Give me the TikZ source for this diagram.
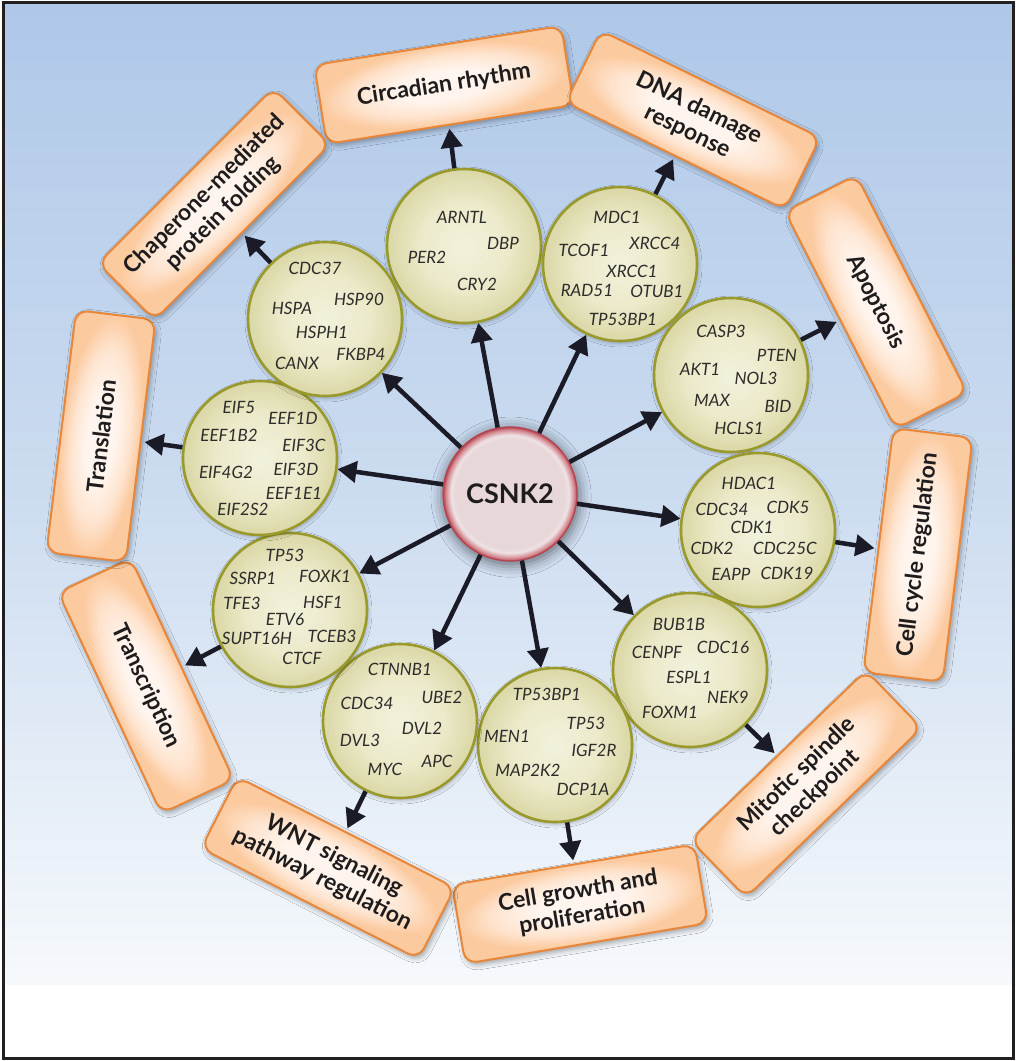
\documentclass[tikz,border=0pt]{standalone}
\usepackage{fontspec}
\setmainfont{Lato}
\usetikzlibrary{arrows.meta,shadows.blur}

\definecolor{bgtop}{HTML}{AFC8E8}
\definecolor{bgmid}{HTML}{CCDCF0}
\definecolor{bgbot}{HTML}{F6F9FC}
\definecolor{framec}{HTML}{231F20}
\definecolor{genein}{HTML}{F2F1DC}
\definecolor{genemid}{HTML}{ECEACA}
\definecolor{geneout}{HTML}{DAD8A6}
\definecolor{geneedge}{HTML}{99992C}
\definecolor{genetext}{HTML}{2E2C2A}
\definecolor{boxin}{HTML}{FFF5EE}
\definecolor{boxmid}{HTML}{FEE4CF}
\definecolor{boxout}{HTML}{FCCA9F}
\definecolor{boxedge}{HTML}{E8873A}
\definecolor{boxtext}{HTML}{1E1C1C}
\definecolor{arrowc}{HTML}{1B1B28}
\definecolor{hubin}{HTML}{E7D7D9}
\definecolor{hubring}{HTML}{EFE3E5}
\definecolor{hubred}{HTML}{D3878F}
\definecolor{hubedge}{HTML}{B5434F}

\pgfdeclareradialshading{geneshade}{\pgfpoint{0bp}{0bp}}{%
  color(0bp)=(genein); color(14bp)=(genemid); color(25bp)=(geneout); color(50bp)=(geneout)}
\pgfdeclareradialshading{boxshade}{\pgfpoint{0bp}{0bp}}{%
  color(0bp)=(boxin); color(9bp)=(boxin); color(18bp)=(boxmid); color(25bp)=(boxout); color(50bp)=(boxout)}
\pgfdeclareradialshading{hubshade}{\pgfpoint{0bp}{0bp}}{%
  color(0bp)=(hubin); color(20.5bp)=(hubin); color(22bp)=(hubring); color(24bp)=(hubred); color(25bp)=(hubedge); color(50bp)=(hubedge)}

% shaded plate under a rotated process box (centre x, centre y, angle, width)
\newcommand\boxplate[4]{%
  \begin{scope}[transform canvas={shift={(#1,#2)},rotate=#3}]
    \shade[shading=boxshade, rounded corners=12pt,
      blur shadow={shadow xshift={(2*cos(#3)-3*sin(#3))*1pt},
                   shadow yshift={(-2*sin(#3)-3*cos(#3))*1pt},
                   shadow blur radius=5pt, shadow opacity=35}]
      (-#4/2,-40) rectangle (#4/2,40);
  \end{scope}}

\begin{document}
\begin{tikzpicture}[x=1pt,y=-1pt,
  gene/.style={circle, minimum size=154pt, inner sep=0pt, draw=geneedge,
    line width=2.6pt, shade, shading=geneshade,
    blur shadow={shadow xshift=1pt, shadow yshift=-2pt, shadow blur radius=4pt, shadow opacity=30}},
  gtxt/.style={font=\fontsize{17}{19}\selectfont\itshape, text=genetext, inner sep=0pt},
  procbox/.style={rectangle, rounded corners=12pt, minimum width=244pt,
    minimum height=80pt, draw=boxedge, line width=2pt, align=center,
    font=\fontsize{23}{26}\selectfont\bfseries, text=boxtext},
  hub/.style={circle, minimum size=134pt, inner sep=0pt, draw=hubedge,
    line width=1.2pt, shade, shading=hubshade,
    font=\fontsize{27}{30}\selectfont\bfseries, text=boxtext,
    blur shadow={shadow xshift=1pt, shadow yshift=-3pt, shadow blur radius=10pt,
      shadow opacity=45, shadow scale=1.04}},
  conn/.style={line width=4.5pt, draw=arrowc, -{Triangle[length=19pt,width=21pt]}}]

\useasboundingbox (0,0) rectangle (1016,1061);
\fill[white] (0,0) rectangle (1016,1061);
% sky-to-white backdrop
\shade[top color=bgtop, bottom color=bgbot, middle color=bgmid] (3,2) rectangle (1013,984);
\draw[line width=3pt, framec] (3,2) rectangle (1013,1058);

% process boxes around the ring
\boxplate{444}{85}{9}{250}
\node[procbox, rotate=9, minimum width=250pt] (b1) at (444,85) {Circadian rhythm};
\boxplate{693}{120}{-26}{244}
\node[procbox, rotate=-26] (b2) at (693,120) {DNA damage\\response};
\boxplate{876}{302}{-63}{244}
\node[procbox, rotate=-63] (b3) at (876,302) {Apoptosis};
\boxplate{918}{555}{83}{246}
\node[procbox, rotate=83, minimum width=246pt] (b4) at (918,555) {Cell cycle regulation};
\boxplate{806}{784}{44}{244}
\node[procbox, rotate=44] (b5) at (806,784) {Mitotic spindle\\checkpoint};
\boxplate{580}{904}{9.5}{246}
\node[procbox, rotate=9.5, minimum width=246pt] (b6) at (580,904) {Cell growth and\\proliferation};
\boxplate{328}{868}{-27}{244}
\node[procbox, rotate=-27] (b7) at (328,868) {WNT signaling\\pathway regulation};
\boxplate{146}{686}{-65}{244}
\node[procbox, rotate=-65] (b8) at (146,686) {Transcription};
\boxplate{101}{436}{83}{244}
\node[procbox, rotate=83] (b9) at (101,436) {Translation};
\boxplate{214}{204}{45}{248}
\node[procbox, rotate=45, minimum width=248pt] (b10) at (214,204) {Chaperone-mediated\\protein folding};

% gene groups
\node[gene] (c1) at (464,246) {};
\node[gene] (c2) at (620,264) {};
\node[gene] (c3) at (731,375) {};
\node[gene] (c4) at (758,530) {};
\node[gene] (c5) at (690,670) {};
\node[gene] (c6) at (555,745) {};
\node[gene] (c7) at (400,721) {};
\node[gene] (c8) at (290,610) {};
\node[gene] (c9) at (260,458) {};
\node[gene] (c10) at (325,319) {};

% central kinase
\node[hub] (hub) at (510,494) {CSNK2};

% kinase to gene groups
\foreach \c in {c1,c2,c3,c4,c5,c6,c7,c8,c9,c10}
  \draw[conn] (hub) -- (\c);
% gene groups to processes
\foreach \i in {1,...,10}
  \draw[conn, shorten >=3pt] (c\i) -- (b\i);

% gene names
\foreach \px/\py/\t [count=\k] in {462/217/ARNTL, 503/243/DBP, 427/257/PER2, 477/284/CRY2}
  \node[gtxt] (g1-\k) at (\px,\py) {\t};
\foreach \px/\py/\t [count=\k] in {617/217/MDC1, 584/250/TCOF1, 655/243/XRCC4, 632/271/XRCC1,
    587/290/RAD51, 657/291/OTUB1, 623/319/TP53BP1}
  \node[gtxt] (g2-\k) at (\px,\py) {\t};
\foreach \px/\py/\t [count=\k] in {721/331/CASP3, 777/355/PTEN, 700/369/AKT1, 756/378/NOL3,
    712/400/MAX, 778/406/BID, 739/428/HCLS1}
  \node[gtxt] (g3-\k) at (\px,\py) {\t};
\foreach \px/\py/\t [count=\k] in {749/483/HDAC1, 722/509/CDC34, 788/507/CDK5, 752/527/CDK1,
    712/548/CDK2, 785/548/CDC25C, 731/574/EAPP, 787/573/CDK19}
  \node[gtxt] (g4-\k) at (\px,\py) {\t};
\foreach \px/\py/\t [count=\k] in {679/624/BUB1B, 657/652/CENPF, 723/647/CDC16, 689/677/ESPL1,
    728/697/NEK9, 670/712/FOXM1}
  \node[gtxt] (g5-\k) at (\px,\py) {\t};
\foreach \px/\py/\t [count=\k] in {547/694/TP53BP1, 507/736/MEN1, 586/723/TP53, 594/750/IGF2R,
    528/770/MAP2K2, 583/789/DCP1A}
  \node[gtxt] (g6-\k) at (\px,\py) {\t};
\foreach \px/\py/\t [count=\k] in {400/669/CTNNB1, 367/703/CDC34, 442/697/UBE2, 422/728/DVL2,
    360/740/DVL3, 385/769/MYC, 437/761/APC}
  \node[gtxt] (g7-\k) at (\px,\py) {\t};
\foreach \px/\py/\t [count=\k] in {285/555/TP53, 253/578/SSRP1, 325/576/FOXK1, 242/603/TFE3,
    323/602/HSF1, 285/619/ETV6, 257/638/SUPT16H, 332/636/TCEB3, 302/658/CTCF}
  \node[gtxt] (g8-\k) at (\px,\py) {\t};
\foreach \px/\py/\t [count=\k] in {239/407/EIF5, 293/418/EEF1D, 229/435/EEF1B2, 304/445/EIF3C,
    226/472/EIF4G2, 296/469/EIF3D, 294/493/EEF1E1, 243/509/EIF2S2}
  \node[gtxt] (g9-\k) at (\px,\py) {\t};
\foreach \px/\py/\t [count=\k] in {315/268/CDC37, 292/308/HSPA, 359/299/HSP90, 322/332/HSPH1,
    361/354/FKBP4, 297/363/CANX}
  \node[gtxt] (g10-\k) at (\px,\py) {\t};

\end{tikzpicture}
\end{document}
